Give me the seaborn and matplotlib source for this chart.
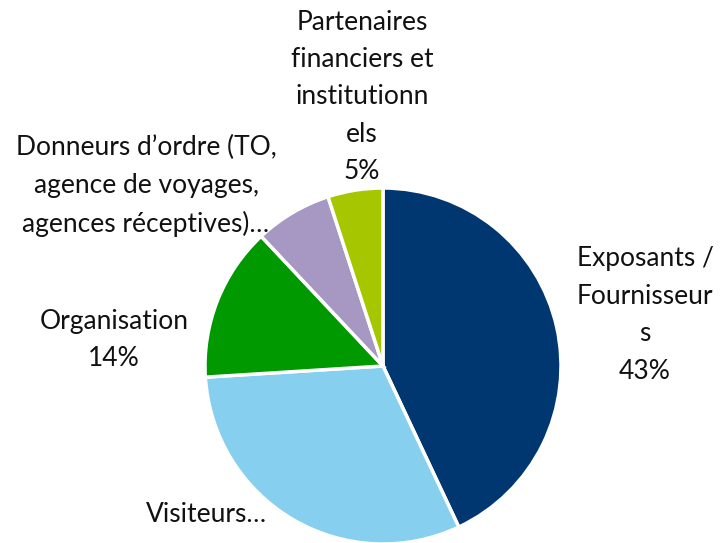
import matplotlib
matplotlib.use("Agg")
import matplotlib.pyplot as plt
import seaborn as sns

# Data
categories = ["Exposants / Fournisseurs", "Visiteurs", "Organisation",
              "Donneurs d’ordre (TO, agence de voyages, agences réceptives)",
              "Partenaires financiers et institutionnels"]
shares = [43, 31, 14, 7, 5]
label_texts = ["Exposants /\nFournisseur\ns\n43%",
               "Visiteurs…",
               "Organisation\n14%",
               "Donneurs d’ordre (TO,\nagence de voyages,\nagences réceptives)…",
               "Partenaires\nfinanciers et\ninstitutionn\nels\n5%"]
colors = ["#003770", "#86CFEE", "#009A00", "#A797C3", "#A6C600"]

sns.set_theme(style="white")
plt.rcParams['font.family'] = ['Lato', 'DejaVu Sans']

W, H = 722, 543
fig = plt.figure(figsize=(W / 100, H / 100), dpi=100)
fig.patch.set_facecolor("white")

cx, cy, r = 383, 366, 178
ax = fig.add_axes([(cx - r) / W, 1 - (cy + r) / H, 2 * r / W, 2 * r / H])
palette = sns.color_palette(colors)
ax.pie(shares, colors=palette, startangle=90, counterclock=False,
       wedgeprops=dict(edgecolor="white", linewidth=2.5))
ax.set_xlim(-1, 1)
ax.set_ylim(-1, 1)
ax.axis("off")

# label anchor positions in pixels (layout)
label_pos = [(645, 315), (206, 515), (114, 340), (146, 186), (362, 97)]
for txt, (px, py) in zip(label_texts, label_pos):
    fig.text(px / W, 1 - py / H, txt, ha="center", va="center",
             fontsize=19, color="#111111", linespacing=1.62)

fig.savefig("out.png", dpi=100, facecolor="white")
